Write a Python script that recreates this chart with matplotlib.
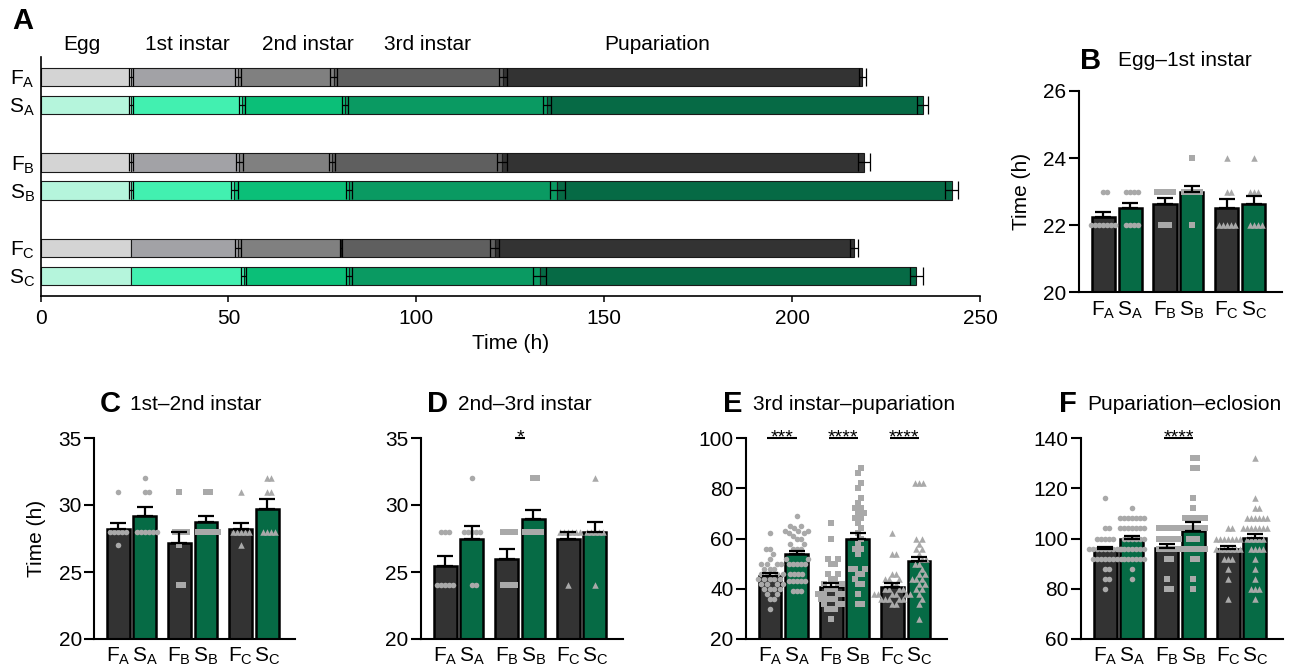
import matplotlib.pyplot as plt
import numpy as np

plt.rcParams['font.family'] = ['Liberation Sans', 'DejaVu Sans']
plt.rcParams['mathtext.fontset'] = 'custom'
plt.rcParams['mathtext.rm'] = 'Liberation Sans'
plt.rcParams['mathtext.it'] = 'Liberation Sans:italic'
plt.rcParams['mathtext.bf'] = 'Liberation Sans:bold'

# ---- data ----
groups = [r'F$_\mathrm{A}$', r'S$_\mathrm{A}$', r'F$_\mathrm{B}$',
          r'S$_\mathrm{B}$', r'F$_\mathrm{C}$', r'S$_\mathrm{C}$']
stages = ['Egg', '1st instar', '2nd instar', '3rd instar', 'Pupariation']
stage_label_x = [11, 39, 71, 103, 164]

# panel A: cumulative time (h) at the end of each stage
a_ends = [
    [24, 52.5, 78.0, 123.0, 218.7],
    [24, 53.6, 81.0, 134.8, 234.7],
    [24, 52.9, 77.5, 122.8, 219.1],
    [24, 51.6, 82.1, 137.5, 242.5],
    [24, 52.5, 79.9, 120.9, 216.5],
    [24, 54.0, 82.1, 132.8, 233.1],
]
a_errs = [
    [0.5, 0.7, 0.9, 1.0, 0.9],
    [0.5, 0.85, 0.9, 1.1, 1.4],
    [0.5, 0.95, 0.85, 1.45, 1.7],
    [0.5, 0.95, 0.9, 2.0, 1.7],
    [0.0, 0.8, 0.35, 1.2, 1.15],
    [0.0, 0.65, 0.9, 1.8, 1.75],
]

# panel B: egg - 1st instar
b_means = [22.23, 22.5, 22.62, 22.98, 22.5, 22.62]
b_sems = [0.17, 0.17, 0.2, 0.2, 0.27, 0.26]
b_pts = [
    [23]*2 + [22]*7,
    [23]*4 + [22]*4,
    [23]*5 + [22]*3,
    [24] + [23]*5 + [22],
    [24] + [23]*2 + [22]*5,
    [24] + [23]*3 + [22]*4,
]

# panel C: 1st - 2nd instar
c_means = [28.2, 29.2, 27.2, 28.7, 28.2, 29.7]
c_sems = [0.42, 0.62, 0.82, 0.48, 0.42, 0.72]
c_pts = [
    [31] + [28]*5 + [27],
    [32] + [31]*2 + [28]*6,
    [31] + [28]*4 + [27] + [24]*2,
    [31]*2 + [28]*6,
    [31] + [28]*5 + [27],
    [32]*2 + [31]*2 + [28]*4,
]

# panel D: 2nd - 3rd instar
d_means = [25.45, 27.45, 25.95, 28.95, 27.45, 27.95]
d_sems = [0.78, 0.95, 0.8, 0.7, 0.55, 0.78]
d_pts = [
    [28]*3 + [24]*5,
    [32] + [28]*5 + [24]*2,
    [28]*4 + [24]*4,
    [32]*2 + [28]*5,
    [28]*6 + [24],
    [32] + [28]*5 + [24],
]

# panel E: 3rd instar - pupariation
e_means = [45.1, 53.8, 40.6, 59.7, 40.8, 50.9]
e_sems = [1.0, 1.3, 1.8, 2.5, 1.4, 1.9]
e_pts = [
    [62, 56, 56, 54, 52] + [50]*4 + [48]*3 + [46]*4 + [44]*5 + [42]*4 + [40]*4 + [38]*2 + [36]*2 + [32],
    [69, 65, 65, 64] + [63]*3 + [62]*2 + [61] + [60]*2 + [58]*2 + [56]*3 + [52]*2 + [50]*5 + [46]*4 + [43]*5 + [39]*3,
    [66, 60, 52, 52, 50, 50, 46, 46, 44, 44] + [42]*3 + [40]*3 + [38]*4 + [36]*4 + [34]*3 + [32]*3 + [28],
    [88, 86, 82, 80, 76, 74, 72, 72, 70, 70, 68, 68, 66, 64, 62, 60, 58, 56, 56, 54,
     48, 48, 48, 46, 46, 44, 42, 42, 38, 34, 34],
    [62, 54, 54, 46, 46] + [44]*3 + [42]*2 + [40]*4 + [38]*6 + [36]*5 + [34]*2,
    [82, 82, 82, 60, 60, 58, 56, 56, 54, 52, 52, 50, 50, 48, 46, 46, 44, 44, 44,
     42, 42, 40, 40, 38, 36, 34, 28],
]

# panel F: pupariation - eclosion
f_means = [95.7, 99.8, 96.3, 103.0, 95.7, 100.1]
f_sems = [1.1, 1.1, 1.5, 3.6, 1.3, 1.7]
f_pts = [
    [116, 104, 104] + [100]*5 + [96]*9 + [92]*8 + [88]*2 + [84]*2 + [80],
    [112] + [108]*7 + [104]*7 + [100]*6 + [96]*7 + [92]*6 + [88, 84],
    [104]*6 + [100]*6 + [96]*6 + [92]*2 + [84] + [80]*2,
    [132]*2 + [128]*2 + [116, 112] + [108]*6 + [104]*6 + [100]*3 + [96]*6 + [92]*2 + [84, 80],
    [104]*2 + [100]*7 + [96]*7 + [92]*3 + [88, 84, 76],
    [132, 116, 112, 112] + [108]*6 + [104]*7 + [100]*5 + [96]*4 + [92, 88, 84] + [80]*3 + [76],
]

d_sig = [(1, '*')]
e_sig = [(0, '***'), (1, '****'), (2, '****')]
f_sig = [(1, '****')]

# ---- style ----
grey_cols = ['#d4d4d4', '#a2a2a6', '#808080', '#5f5f5f', '#333333']
green_cols = ['#b5f5dc', '#42f0b0', '#0bbf78', '#0a9a62', '#066a45']
bar_cols = ['#333333', '#066b45'] * 3
pt_col = '#a9a9a9'
markers = ['o', 'o', 's', 's', '^', '^']
msizes = [16, 16, 16, 16, 22, 22]
pos = np.array([0, 1, 2.3, 3.3, 4.6, 5.6])

W, H = 1293, 670
fig = plt.figure(figsize=(W / 100, H / 100), dpi=100)


def frac(left, top, right, bottom):
    return [left / W, 1 - bottom / H, (right - left) / W, (bottom - top) / H]


# ---- panel A ----
axA = fig.add_axes(frac(40.6, 57, 980, 296))
ypos = [0, 1, 3.05, 4.05, 6.1, 7.1]
for r in range(6):
    cols = grey_cols if r % 2 == 0 else green_cols
    ends = np.array(a_ends[r])
    starts = np.concatenate([[0], ends[:-1]])
    axA.barh([ypos[r]] * 5, ends - starts, left=starts, height=0.66,
             color=cols, edgecolor='#1a1a1a', linewidth=0.8, zorder=2)
    errs = np.array(a_errs[r])
    keep = errs > 0
    axA.errorbar(ends[keep], [ypos[r]] * keep.sum(), xerr=errs[keep], fmt='none',
                 ecolor='black', elinewidth=0.9, capsize=6.5, capthick=0.9, zorder=3)
for lab, x in zip(stages, stage_label_x):
    axA.text(x, -1.15, lab, ha='center', va='center', fontsize=15)
axA.set_xlim(0, 250)
axA.set_ylim(7.82, -0.71)
axA.set_yticks(ypos)
axA.set_yticklabels(groups, fontsize=15)
axA.set_xticks([0, 50, 100, 150, 200, 250])
axA.tick_params(axis='y', length=0, pad=4)
axA.tick_params(axis='x', length=4.5, width=1.1, labelsize=15, pad=5)
axA.set_xlabel('Time (h)', fontsize=15, labelpad=4)
for s in ['top', 'right']:
    axA.spines[s].set_visible(False)
for s in ['left', 'bottom']:
    axA.spines[s].set_linewidth(1.2)
fig.text(12 / W, 1 - 21 / H, 'A', fontsize=21, fontweight='bold', va='center')


# ---- bar panels ----
def swarm(ax, xc, vals, marker, s, dx=3.8, dy=8.0):
    """Beeswarm layout in pixel space (elliptic collision, rows overlap a bit)."""
    vals = np.asarray(vals, float)
    pix = ax.transData.transform(np.column_stack([np.full(len(vals), xc), vals]))
    ypx = pix[:, 1]
    cands = [0.0]
    for j in range(1, 200):
        cands += [j * 0.5, -j * 0.5]
    placed = []
    offs = np.zeros(len(vals))
    for i in np.argsort(ypx, kind='stable'):
        y = ypx[i]
        for c in cands:
            if all(((c - px) / dx) ** 2 + ((y - py) / dy) ** 2 >= 1 for px, py in placed):
                break
        offs[i] = c
        placed.append((c, y))
    pix[:, 0] += offs
    xy = ax.transData.inverted().transform(pix)
    ax.scatter(xy[:, 0], vals, marker=marker, s=s, color=pt_col, linewidths=0,
               zorder=3, clip_on=False)


def bar_panel(box, means, sems, pts, ylim, yticks, sig=(), short=False,
              ylabel=None):
    ax = fig.add_axes(frac(*box))
    ax.set_xlim(-0.9, 6.65)
    ax.set_ylim(*ylim)
    ax.bar(pos, means, width=0.86, color=bar_cols, edgecolor='black',
           linewidth=1.8, zorder=2)
    for i in range(6):
        swarm(ax, pos[i], pts[i], markers[i], msizes[i])
    ax.errorbar(pos, means, yerr=[np.zeros(6), sems], fmt='none', ecolor='black',
                elinewidth=1.6, capsize=5.5, capthick=1.6, zorder=4)
    top = ylim[1]
    for k, stars in sig:
        p0, p1 = pos[2 * k], pos[2 * k + 1]
        mid = (p0 + p1) / 2
        if short:
            x0, x1 = mid - 0.19, mid + 0.19
        else:
            x0, x1 = p0 - 0.1, p1
        ax.plot([x0, x1], [top, top], color='black', lw=1.5, clip_on=False,
                solid_capstyle='butt')
        ax.annotate(stars, xy=((x0 + x1) / 2, top), xytext=(0, -3.5),
                    textcoords='offset points', ha='center', va='baseline',
                    fontsize=14, annotation_clip=False)
    ax.set_ylim(*ylim)
    ax.set_yticks(yticks)
    ax.set_xticks(pos)
    ax.set_xticklabels(groups, fontsize=15)
    ax.tick_params(axis='x', length=0, pad=5)
    ax.tick_params(axis='y', length=7, width=1.5, labelsize=15, pad=2)
    for s in ['top', 'right']:
        ax.spines[s].set_visible(False)
    for s in ['left', 'bottom']:
        ax.spines[s].set_linewidth(1.5)
    if ylabel:
        ax.set_ylabel(ylabel, fontsize=15, labelpad=9)
    return ax


bar_panel((1079, 91, 1282, 292.3), b_means, b_sems, b_pts, (20, 26), [20, 22, 24, 26],
          ylabel='Time (h)')
bar_panel((94.3, 438, 295, 639), c_means, c_sems, c_pts, (20, 35), [20, 25, 30, 35],
          ylabel='Time (h)')
bar_panel((421, 438, 623, 639), d_means, d_sems, d_pts, (20, 35), [20, 25, 30, 35],
          sig=d_sig, short=True)
bar_panel((746, 438, 947, 639), e_means, e_sems, e_pts, (20, 100), [20, 40, 60, 80, 100],
          sig=e_sig)
bar_panel((1081, 438, 1283, 639), f_means, f_sems, f_pts, (60, 140), [60, 80, 100, 120, 140],
          sig=f_sig)

# panel letters and titles
titles = [('B', 1080, 1118, 61, 'Egg\u20131st instar'),
          ('C', 100, 130, 404, '1st\u20132nd instar'),
          ('D', 427, 458, 404, '2nd\u20133rd instar'),
          ('E', 723, 753, 404, '3rd instar\u2013pupariation'),
          ('F', 1059, 1087, 404, 'Pupariation\u2013eclosion')]
for letter, xl, xt, y, t in titles:
    fig.text(xl / W, 1 - y / H, letter, fontsize=21, fontweight='bold', va='center')
    fig.text(xt / W, 1 - y / H, t, fontsize=15, va='center')

fig.savefig('out.png', dpi=100, facecolor='white')
